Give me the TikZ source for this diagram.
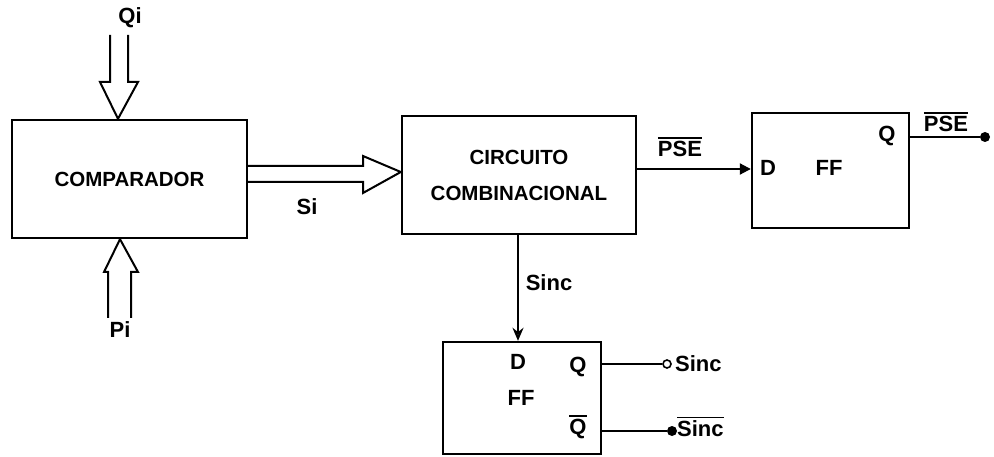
\documentclass[tikz,border=0pt]{standalone}
\usepackage{fontspec}
\setmainfont{Liberation Sans}
\usetikzlibrary{arrows.meta}
\newcommand{\ovl}[1]{\leavevmode\vbox{\hrule height 1.6pt\kern 2.5pt\hbox{#1}}}
\begin{document}
\begin{tikzpicture}[x=1pt,y=-1pt,
  box/.style={draw,line width=2.4pt,inner sep=0pt,align=center,font=\bfseries\fontsize{20.5}{36}\selectfont},
  lbl/.style={inner sep=1pt,font=\bfseries\fontsize{22}{24}\selectfont},
  pin/.style={inner sep=1pt,font=\bfseries\fontsize{22}{24}\selectfont},
  wire/.style={line width=2pt},
  fat/.style={line width=2pt,line join=miter},
  dot/.style={circle,fill,inner sep=0pt,minimum size=10pt},
  odot/.style={circle,draw,line width=1.6pt,inner sep=0pt,minimum size=8pt}]
\useasboundingbox (0,0) rectangle (994,457);
% boxes
\node[box,minimum width=235pt,minimum height=118pt] (comp) at (129.5,179) {COMPARADOR};
\node[box,minimum width=234pt,minimum height=118pt] (cc) at (519,175) {CIRCUITO\\COMBINACIONAL};
\node[box,minimum width=157pt,minimum height=115pt] (ff1) at (830.5,170.5) {};
\node[box,minimum width=158pt,minimum height=112pt] (ff2) at (522,398) {};
% pin labels
\node[pin] (d1) at (768,168) {D};
\node[pin] (f1) at (829,168) {FF};
\node[pin] (q1) at (887,136) {Q};
\node[pin] (d2) at (518,362) {D};
\node[pin] (q2) at (578,367) {Q};
\node[pin] (f2) at (521,398) {FF};
\node[pin] (qb2) at (578,427) {\ovl{Q}};
% signal labels
\node[lbl] (qi) at (130,18) {Qi};
\node[lbl] (pi) at (120,330) {Pi};
\node[lbl] (si) at (307,207) {Si};
\node[lbl] (pse1) at (680,147) {\ovl{PSE}};
\node[lbl] (pse2) at (946,122) {\ovl{PSE}};
\node[lbl] (sinc) at (549,283) {Sinc};
\node[lbl,anchor=west] (so) at (674,364) {Sinc};
\node[lbl,anchor=west] (sbo) at (676,427) {\ovl{Sinc}};
% terminals
\node[dot] (t1) at (985,137) {};
\node[odot] (t2) at (667,364) {};
\node[dot] (t3) at (672,431) {};
% wide arrows
\draw[fat] (110,35) -- (110,82) -- (100,82) -- (comp.north -| 118,0) -- (138,82) -- (128,82) -- (128,35);
\draw[fat] (108,318) -- (108,272) -- (104,272) -- (comp.south -| 120,0) -- (138,272) -- (131,272) -- (131,318);
\draw[fat] (comp.east |- 0,166) -- (363,166) -- (363,156) -- (cc.west |- 0,172) -- (363,193) -- (363,182) -- (comp.east |- 0,182);
% wires
\draw[wire,-{Triangle[length=11pt,width=11pt]}] (cc.east |- 0,169) -- (ff1.west |- 0,169);
\draw[wire,-{Stealth[length=13pt,width=11pt,open]}] (cc.south -| 518,0) -- (ff2.north -| 518,0);
\draw[wire] (ff1.east |- t1) -- (t1);
\draw[wire] (ff2.east |- t2) -- (t2);
\draw[wire] (ff2.east |- t3) -- (t3);
\end{tikzpicture}
\end{document}
